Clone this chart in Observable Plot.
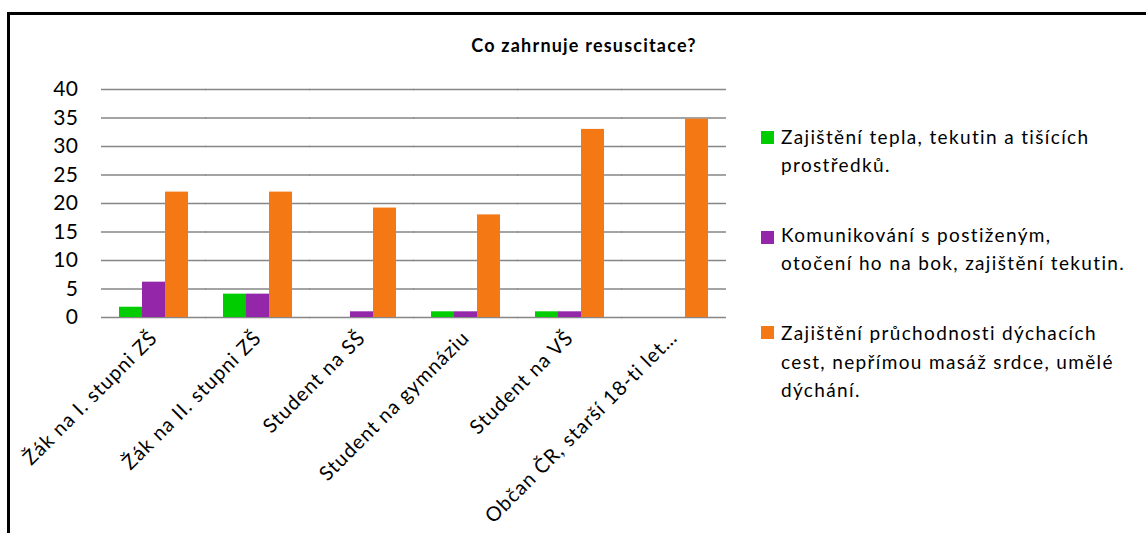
<!DOCTYPE html>
<html>
<head>
<meta charset="utf-8">
<script src="https://cdn.jsdelivr.net/npm/d3@7"></script>
<script src="https://cdn.jsdelivr.net/npm/@observablehq/plot@0.6"></script>
<style>
  body { margin: 0; background: #fff; width: 1146px; height: 533px; overflow: hidden; position: relative; font-family: Lato, sans-serif; }
  #frame { position: absolute; left: 7px; top: 12px; width: 1200px; height: 600px; border-left: 3px solid #000; border-top: 3px solid #000; z-index: 5; pointer-events: none; }
  #title { position: absolute; left: 0; width: 1168px; top: 35px; text-align: center; font-weight: bold; font-size: 18px; letter-spacing: 1.2px; line-height: 20px; color: #000; }
  #chart { position: absolute; left: 0; top: 0; }
  #chart [aria-label="fx-axis tick label"] text { font-size: 20px; letter-spacing: 1px; }
  #chart [aria-label="y-axis tick label"] text { font-size: 21px; letter-spacing: 0.5px; }
  .sw { position: absolute; left: 761px; width: 13px; height: 13px; }
  .lt { position: absolute; left: 781px; font-size: 19px; letter-spacing: 1.35px; line-height: 28.5px; color: #000; white-space: pre; }
</style>
</head>
<body>
<div id="frame"></div>
<div id="title">Co zahrnuje resuscitace?</div>
<div id="chart"></div>
<div id="legend"></div>
<script>
// Respondent groups (x categories)
const groups = [
  "Žák na I. stupni ZŠ",
  "Žák na II. stupni ZŠ",
  "Student na SŠ",
  "Student na gymnáziu",
  "Student na VŠ",
  "Občan ČR, starší 18-ti let…"
];

// Answer options (series)
const seriesNames = [
  "Zajištění tepla, tekutin a tišících prostředků.",
  "Komunikování s postiženým, otočení ho na bok, zajištění tekutin.",
  "Zajištění průchodnosti dýchacích cest, nepřímou masáž srdce, umělé dýchání."
];

// Legend text, broken into lines
const legendLines = [
  ["Zajištění tepla, tekutin a tišících", "prostředků."],
  ["Komunikování s postiženým,", "otočení ho na bok, zajištění tekutin."],
  ["Zajištění průchodnosti dýchacích", "cest, nepřímou masáž srdce, umělé", "dýchání."]
];

// Values per series, one per group
const warmthValues   = [1.8, 4.1, 0, 1, 1, 0];
const talkValues     = [6.2, 4.1, 1, 1, 1, 0];
const airwayValues   = [22, 22, 19.2, 18, 33, 34.8];

const yTicks = [0, 5, 10, 15, 20, 25, 30, 35, 40];
const colors = ["#00cc00", "#9326a9", "#f47914"];

const seriesValues = [warmthValues, talkValues, airwayValues];
const rows = [];
groups.forEach((g, i) => {
  seriesNames.forEach((s, j) => rows.push({group: g, series: s, value: seriesValues[j][i]}));
});

const width = 740, marginLeft = 102, marginRight = 14;
const gap = 0.317;
// half of the space between neighbouring groups, so per-facet gridlines join up
const halfGap = ((width - marginLeft - marginRight) / groups.length) * gap / 2;

const chart = Plot.plot({
  width,
  height: 533,
  marginTop: 89,
  marginLeft,
  marginRight,
  marginBottom: 216,
  style: {background: "transparent", fontFamily: "Lato, sans-serif", fontSize: "19px", color: "#000"},
  fx: {domain: groups, paddingInner: gap, paddingOuter: gap / 2, label: null, tickRotate: -45, tickSize: 0, tickPadding: 17},
  x: {domain: seriesNames, axis: null, padding: 0},
  y: {domain: [0, 40], ticks: yTicks, tickSize: 0, tickPadding: 40, label: null, tickFormat: d3.format("d")},
  color: {domain: seriesNames, range: colors},
  marks: [
    Plot.ruleY(yTicks, {stroke: "#868686", strokeWidth: 1.3, insetLeft: -halfGap - 0.5, insetRight: -halfGap - 0.5}),
    Plot.barY(rows, {fx: "group", x: "series", y: "value", fill: "series"})
  ]
});
document.getElementById("chart").appendChild(chart);

// Legend: swatch plus wrapped label for each series
const legendTops = [122.8, 220.5, 319];
const swatchTops = [131, 231, 326];
const legend = document.getElementById("legend");
seriesNames.forEach((s, i) => {
  const sw = document.createElement("div");
  sw.className = "sw";
  sw.style.top = swatchTops[i] + "px";
  sw.style.background = colors[i];
  legend.appendChild(sw);
  const t = document.createElement("div");
  t.className = "lt";
  t.style.top = legendTops[i] + "px";
  t.textContent = legendLines[i].join("\n");
  legend.appendChild(t);
});
</script>
</body>
</html>
